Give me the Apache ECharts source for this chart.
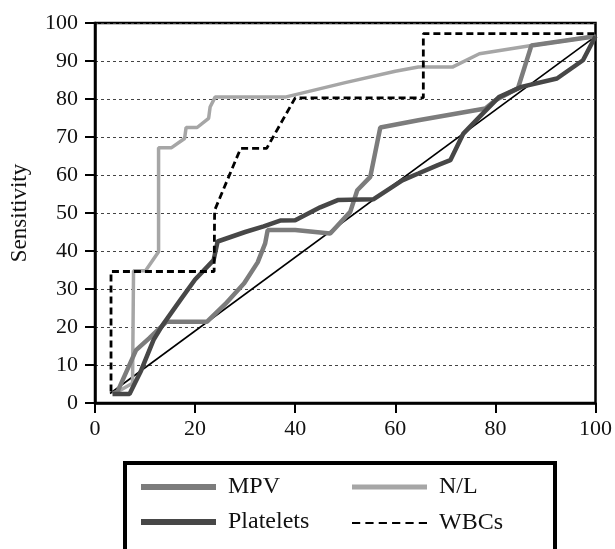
<!DOCTYPE html>
<html>
<head>
<meta charset="utf-8">
<script src="https://cdn.jsdelivr.net/npm/echarts@6/dist/echarts.min.js"></script>
<style>html,body{margin:0;padding:0;background:#fff;}#c{width:615px;height:549px;}</style>
</head>
<body>
<div id="c"></div>
<script>
// ---- data ----
const xTicks = [0, 20, 40, 60, 80, 100];
const yTicks = [0, 10, 20, 30, 40, 50, 60, 70, 80, 90, 100];
const seriesNames = ['MPV', 'N/L', 'Platelets', 'WBCs'];
const mpv = [[3.5,2.5],[4.5,3],[8.2,13.9],[10.8,17],[14.3,21.4],[22.4,21.4],[26,26],[29.8,31.5],[32.5,37],[34,42],[34.5,45.5],[40,45.5],[47,44.6],[51,50.3],[52.4,56],[55,59.5],[57,72.5],[64.6,74.4],[78,77.5],[80,79.7],[84.5,82.8],[87.2,94.1],[100,96.5]];
const platelets = [[3.5,2.4],[6.9,2.4],[9.2,8.5],[11.7,16.6],[13.5,20.5],[17,27],[20,32.5],[23.7,37.6],[24.5,42.5],[30,45],[33.7,46.5],[37,48],[40,48.1],[45,51.5],[48.5,53.4],[55.6,53.6],[61.4,58.6],[64.6,60.4],[68.5,62.6],[71,63.9],[73.6,70.9],[77.5,76.2],[80.7,80.5],[85.2,83.2],[92.3,85.4],[97.5,90.2],[100,96.5]];
const nl = [[4.6,3],[7.5,5.2],[7.7,34.8],[10.1,34.8],[12.7,39.8],[12.7,67.2],[15.3,67.2],[17.9,69.6],[18.2,72.5],[20.4,72.5],[22.7,74.9],[23,77.9],[24,80.5],[38,80.5],[50,84.3],[60,87.3],[64.6,88.4],[71.4,88.4],[76.8,91.9],[87.2,94.1],[100,96.5]];
const wbcs = [[3.2,3],[3.2,34.6],[23.8,34.6],[23.9,50.7],[29.1,67],[34.3,67],[40,80.3],[65.6,80.3],[65.6,97.2],[100,97.2]];
const diagonal = [[3,2.5],[100,96.5]];

const FONT = '"Liberation Serif", "DejaVu Serif", serif';
const chart = echarts.init(document.getElementById('c'), null, {renderer: 'canvas'});

function legendItem(name, left, top, icon, h) {
  return {
    data: [{name: name, icon: icon}],
    left: left, top: top, padding: 0,
    itemWidth: 75, itemHeight: h,
    itemStyle: {borderWidth: 0},
    selectedMode: false,
    z: 10,
    textStyle: {fontFamily: FONT, fontSize: 24, color: '#111', padding: [0, 0, 0, 7]}
  };
}
const dashIcon = 'path://M0,0h8v2h-8z M13,0h8v2h-8z M26,0h8v2h-8z M39,0h8v2h-8z M52,0h8v2h-8z M65,0h8v2h-8z';

chart.setOption({
  animation: false,
  backgroundColor: '#fff',
  grid: {left: 87, right: 9, top: 23, bottom: 146, show: true, borderColor: '#000', borderWidth: 2.5, backgroundColor: 'transparent'},
  xAxis: {
    type: 'value', min: xTicks[0], max: xTicks[xTicks.length - 1], interval: 20,
    axisLine: {show: true, lineStyle: {color: '#000', width: 2.5}},
    axisTick: {show: true, length: 10, lineStyle: {color: '#000', width: 2}},
    splitLine: {show: false},
    axisLabel: {fontFamily: FONT, fontSize: 22, color: '#111', margin: 15}
  },
  yAxis: {
    type: 'value', min: yTicks[0], max: yTicks[yTicks.length - 1], interval: 10,
    name: 'Sensitivity', nameLocation: 'middle', nameGap: 64,
    nameTextStyle: {fontFamily: FONT, fontSize: 23, color: '#111'},
    axisLine: {show: true, lineStyle: {color: '#000', width: 2.5}},
    axisTick: {show: true, length: 10, lineStyle: {color: '#000', width: 2}},
    splitLine: {show: true, lineStyle: {color: '#444', width: 1, type: [3, 3]}},
    axisLabel: {fontFamily: FONT, fontSize: 22, color: '#111', margin: 17}
  },
  graphic: [{
    type: 'rect', left: 123, top: 461, z: 1,
    shape: {width: 430, height: 110},
    style: {fill: '#fff', stroke: '#000', lineWidth: 4}
  }],
  legend: [
    legendItem(seriesNames[0], 141, 475, 'rect', 6),
    legendItem(seriesNames[1], 352, 475, 'rect', 5),
    legendItem(seriesNames[2], 141, 510, 'rect', 6),
    legendItem(seriesNames[3], 352, 511, dashIcon, 3)
  ],
  series: [
    {type: 'line', name: 'diag', data: diagonal, symbol: 'none', color: '#000', lineStyle: {color: '#000', width: 1.6}, z: 2},
    {type: 'line', name: seriesNames[1], data: nl, symbol: 'none', color: '#a6a6a6', lineStyle: {color: '#a6a6a6', width: 3.5}, z: 3},
    {type: 'line', name: seriesNames[0], data: mpv, symbol: 'none', color: '#7c7c7c', lineStyle: {color: '#7c7c7c', width: 4.5}, z: 4},
    {type: 'line', name: seriesNames[2], data: platelets, symbol: 'none', color: '#474747', lineStyle: {color: '#474747', width: 4.5}, z: 5},
    {type: 'line', name: seriesNames[3], data: wbcs, symbol: 'none', color: '#000', lineStyle: {color: '#000', width: 2.8, type: [7, 4]}, z: 6}
  ]
});
</script>
</body>
</html>
